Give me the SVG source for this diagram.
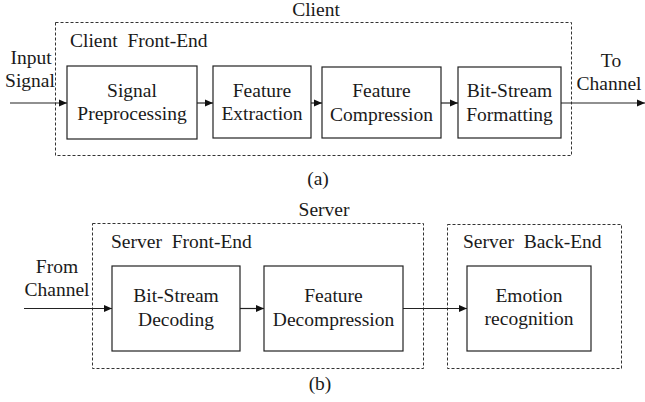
<svg xmlns="http://www.w3.org/2000/svg" width="645" height="402" viewBox="0 0 645 402">
<style>
text{font-family:"Liberation Serif","Times New Roman",serif;font-size:19.5px;fill:#1a1a1a;white-space:pre}
.c{text-anchor:middle}
.box{fill:#fff;stroke:#222;stroke-width:1.2}
.dash{fill:none;stroke:#333;stroke-width:1;stroke-dasharray:3 2}
.ln{stroke:#222;stroke-width:1.2;fill:none;marker-end:url(#ah)}
</style>
<defs>
<marker id="ah" markerWidth="8" markerHeight="8" viewBox="0 0 8 8" refX="8" refY="4" orient="auto" markerUnits="userSpaceOnUse">
<path d="M0,0.5 L8,4 L0,7.5 Z" fill="#111"/>
</marker>
</defs>
<g id="client-group">
<text class="c" x="316" y="16">Client</text>
<rect class="dash" x="55.5" y="22.5" width="516" height="133"/>
<text x="70" y="47">Client  Front-End</text>
</g>
<g id="server-group">
<text class="c" x="324" y="216">Server</text>
<rect class="dash" x="92.5" y="223.5" width="331" height="145"/>
<text x="111" y="248">Server  Front-End</text>
</g>
<g id="backend-group">
<rect class="dash" x="447.5" y="224.5" width="174" height="144"/>
<text x="463" y="248">Server  Back-End</text>
</g>
<g id="connectors">
<line class="ln" x1="10" y1="103" x2="67" y2="103"/>
<line class="ln" x1="197" y1="103" x2="213" y2="103"/>
<line class="ln" x1="311" y1="103" x2="322" y2="103"/>
<line class="ln" x1="441" y1="103" x2="458" y2="103"/>
<line class="ln" x1="561" y1="103" x2="645" y2="103"/>
<line class="ln" x1="24" y1="308.5" x2="112" y2="308.5"/>
<line class="ln" x1="240" y1="308.5" x2="264" y2="308.5"/>
<line class="ln" x1="403" y1="308.5" x2="467" y2="308.5"/>
</g>
<g id="labels">
<text class="c" x="31" y="64">Input</text>
<text class="c" x="30" y="87">Signal</text>
<text class="c" x="611" y="67">To</text>
<text class="c" x="609" y="90">Channel</text>
<text class="c" x="57" y="273">From</text>
<text class="c" x="57" y="296">Channel</text>
<text class="c" x="318" y="185">(a)</text>
<text class="c" x="320" y="390">(b)</text>
</g>
<g id="signal-preprocessing">
<rect class="box" x="67" y="66" width="130" height="73"/>
<text class="c" x="132" y="97">Signal</text>
<text class="c" x="132" y="120">Preprocessing</text>
</g>
<g id="feature-extraction">
<rect class="box" x="213" y="66" width="98" height="72"/>
<text class="c" x="262" y="97">Feature</text>
<text class="c" x="262" y="120">Extraction</text>
</g>
<g id="feature-compression">
<rect class="box" x="322" y="67" width="119" height="71"/>
<text class="c" x="381.5" y="97">Feature</text>
<text class="c" x="381.5" y="121">Compression</text>
</g>
<g id="bitstream-formatting">
<rect class="box" x="458" y="67" width="103" height="71"/>
<text class="c" x="509.5" y="97">Bit-Stream</text>
<text class="c" x="509.5" y="121">Formatting</text>
</g>
<g id="bitstream-decoding">
<rect class="box" x="112" y="266" width="128" height="85"/>
<text class="c" x="176" y="302">Bit-Stream</text>
<text class="c" x="176" y="326">Decoding</text>
</g>
<g id="feature-decompression">
<rect class="box" x="264" y="266" width="139" height="85"/>
<text class="c" x="333.5" y="302">Feature</text>
<text class="c" x="333.5" y="326">Decompression</text>
</g>
<g id="emotion-recognition">
<rect class="box" x="467" y="266" width="124" height="85"/>
<text class="c" x="529" y="302">Emotion</text>
<text class="c" x="529" y="325">recognition</text>
</g>
</svg>
